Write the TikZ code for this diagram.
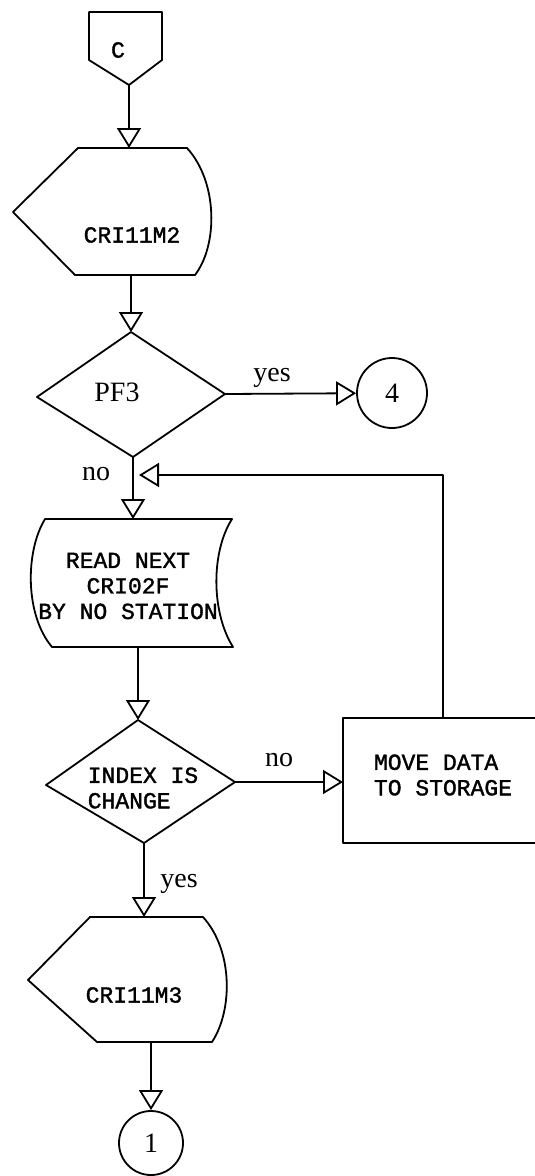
\documentclass[tikz,border=0pt]{standalone}
\usepackage{fontspec}
\setmainfont{Liberation Serif}
\setmonofont{Liberation Mono}[BoldFont=Liberation Mono, BoldFeatures={FakeBold=1.5}]
\usetikzlibrary{arrows.meta}

\tikzset{
	pfeil/.style={-{Triangle[open,length=20pt,width=24pt]}},
	kasten/.style={font=\ttfamily\bfseries\fontsize{23}{25.5}\selectfont, inner sep=0pt},
	marke/.style={font=\fontsize{28}{30}\selectfont, inner sep=0pt},
}

\begin{document}
\begin{tikzpicture}[x=1pt, y=-1pt, line width=1.8pt, line join=round]
	\useasboundingbox (0,0) rectangle (535,1176);
	
		%Anschluss C
		\draw (89,12) -- (162,12) -- (162,60) -- (129,85) -- (89,60) -- cycle;
		\node[kasten] (c) at (118,50) {C};
		\coordinate (c-s) at (129,85);
		
		%Bildschirm CRI11M2
		\draw (78,148) -- (187,148) .. controls (218,182) and (218,245) .. (195,275) -- (75,275) -- (13,212) -- cycle;
		\node[kasten] (m2) at (132,235) {CRI11M2};
		\coordinate (m2-n) at (129,148);
		\coordinate (m2-s) at (131,275);
		
		%Abfrage PF3
		\draw (131,332) -- (225,394) -- (133,457) -- (37,397) -- cycle;
		\node[marke] (pf) at (117,392) {PF3};
		\coordinate (pf-n) at (131,332);
		\coordinate (pf-e) at (225,394);
		\coordinate (pf-s) at (133,457);
		\node[draw, circle, minimum size=70pt, marke] (k4) at (392,393) {4};
		\node[marke] (ja1) at (272,378) {yes};
		\node[marke] (nein1) at (96,474) {no};
		
		%Datei lesen
		\draw (45,519) -- (232,519) .. controls (211,552) and (211,612) .. (233,647) -- (52,647) .. controls (25,615) and (25,552) .. (45,519) -- cycle;
		\node[kasten, align=center] (lesen) at (128,586) {READ NEXT\\CRI02F\\BY NO STATION};
		\coordinate (lesen-n) at (133,519);
		\coordinate (lesen-s) at (138,647);
		\coordinate (zurueck) at (139,475);
		
		%Abfrage Index
		\draw (138,720) -- (235,782) -- (144,843) -- (46,785) -- cycle;
		\node[kasten, align=left] (index) at (143,788) {INDEX IS\\CHANGE};
		\coordinate (index-n) at (138,720);
		\coordinate (index-e) at (235,782);
		\coordinate (index-s) at (144,843);
		\node[marke] (nein2) at (279,760) {no};
		\node[marke] (ja2) at (179,884) {yes};
		
		%Speichern
		\draw (545,718) -- (343,718) -- (343,843) -- (545,843);
		\node[kasten, align=left] (move) at (443,775) {MOVE DATA\\TO STORAGE};
		\coordinate (move-w) at (343,782);
		\coordinate (move-n) at (443,718);
		
		%Bildschirm CRI11M3
		\draw (90,917) -- (203,917) .. controls (233,950) and (233,1010) .. (212,1042) -- (97,1042) -- (28,980) -- cycle;
		\node[kasten] (m3) at (134,995) {CRI11M3};
		\coordinate (m3-n) at (144,917);
		\coordinate (m3-s) at (151,1042);
		\node[draw, circle, minimum size=64pt, marke] (k1) at (151,1143) {1};
		
		%Verbindungen
		\foreach \a/\b in {c-s/m2-n, m2-s/pf-n, pf-e/k4, pf-s/lesen-n, lesen-s/index-n, index-e/move-w, index-s/m3-n, m3-s/k1} {
			\draw[pfeil] (\a) -- (\b);
		}
		\draw[pfeil] (move-n) |- (zurueck);
	\end{tikzpicture}
\end{document}
